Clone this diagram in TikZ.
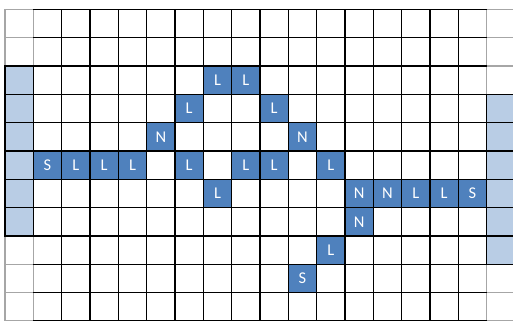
\documentclass[tikz,border=0pt]{standalone}
\usepackage{fontspec}
\setmainfont{Carlito}
\definecolor{cellblue}{HTML}{4F81BD}
\definecolor{paleblue}{HTML}{B9CDE5}
\definecolor{edgegray}{HTML}{A6A6A6}
\tikzset{gridline/.style={line width=1.5pt,black},
	tile/.style={draw=black,line width=1.5pt,fill=cellblue,text=white,minimum size=1cm,inner sep=0pt}}
\begin{document}
\begin{tikzpicture}[x=1cm,y=-1cm,line cap=rect,font=\fontsize{16.5}{16.5}\selectfont]
			\def\nc{17} \def\nr{11}
			\useasboundingbox (-0.1765,-0.329) rectangle (17.93,10.967);
			% side columns
			\draw[edgegray,line width=1.5pt] (0,0) grid (1,\nr) (\nc,0) grid (18,\nr);
			\fill[paleblue] (0,2) rectangle (1,8) (\nc,3) rectangle (18,9);
			\draw[gridline] (0,2) grid (1,8) (\nc,3) grid (18,9);
			% main grid
			\foreach \r in {0,...,\nr} \draw[gridline] (1,\r)--(\nc,\r);
			\foreach \c in {2,...,16} \draw[gridline] (\c,0)--(\c,\nr);
			% path cells
			\foreach \c/\r/\t in {7/2/L,8/2/L,6/3/L,9/3/L,5/4/N,10/4/N,
				1/5/S,2/5/L,3/5/L,4/5/L,6/5/L,8/5/L,9/5/L,11/5/L,
				7/6/L,12/6/N,13/6/N,14/6/L,15/6/L,16/6/S,
				12/7/N,11/8/L,10/9/S}
				\node[tile] (t-\c-\r) at (\c+0.5,\r+0.5) {\t};
	\end{tikzpicture}
\end{document}
